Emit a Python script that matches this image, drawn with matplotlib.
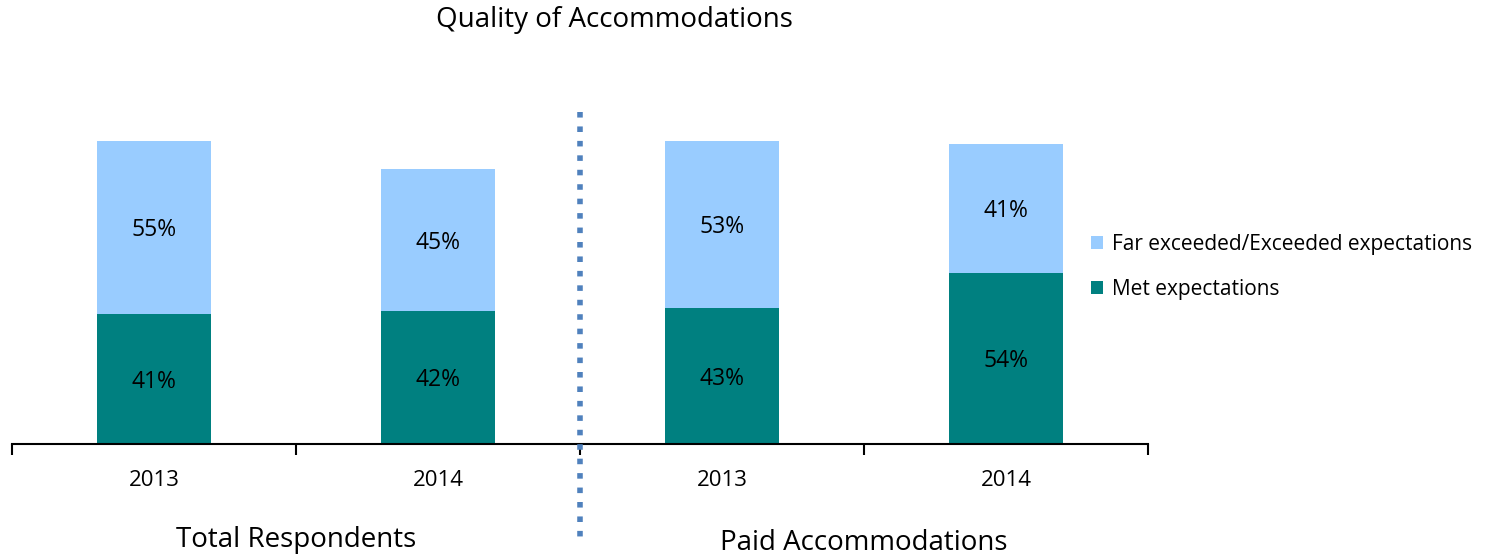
import matplotlib
matplotlib.use('Agg')
import matplotlib.pyplot as plt
import numpy as np

plt.rcParams['font.family'] = ['Open Sans', 'DejaVu Sans']

# 数据
years = ['2013', '2014', '2013', '2014']
groups = ['Total Respondents', 'Paid Accommodations']
met = [41, 42, 43, 54]
exceeded = [55, 45, 53, 41]

c_met = '#008080'
c_exc = '#99CCFF'

fig = plt.figure(figsize=(14.93, 5.56), dpi=100)
W, H = 1493, 556
ax = fig.add_axes([12 / W, (556 - 444) / H, (1148 - 12) / W, (444 - 128) / H])

x = np.arange(len(years))
b1 = ax.bar(x, met, 0.4, color=c_met, label='Met expectations')
b2 = ax.bar(x, exceeded, 0.4, bottom=met, color=c_exc,
            label='Far exceeded/Exceeded expectations')

for i in range(len(years)):
    ax.text(x[i], met[i] / 2 - 0.8, f'{met[i]}%', ha='center', va='center', fontsize=16.5)
    ax.text(x[i], met[i] + exceeded[i] / 2 - 0.8, f'{exceeded[i]}%', ha='center', va='center', fontsize=16.5)

ax.set_xlim(-0.5, len(years) - 0.5)
ax.set_ylim(0, 100)
for s in ['top', 'right', 'left']:
    ax.spines[s].set_visible(False)
ax.spines['bottom'].set_linewidth(1.5)
ax.set_yticks([])
ax.set_xticks(np.arange(-0.5, len(years), 1.0), minor=False)
ax.set_xticklabels([])
ax.tick_params(axis='x', length=8, width=1.5, direction='out')
for i, y in enumerate(years):
    ax.text(x[i], -11.4, y, ha='center', va='center', fontsize=16)

# 分组标签
ax.text(0.5, -30.5, groups[0], ha='center', va='center', fontsize=20)
ax.text(2.5, -31.2, groups[1], ha='center', va='center', fontsize=20)

# 分隔线
fig.add_artist(plt.Line2D([580 / W, 580 / W], [(556 - 112) / H, (556 - 542) / H],
                          color='#4F81BD', linewidth=4, linestyle=(0, (1, 1.6))))

fig.text(614 / W, 1 - 20 / H, 'Quality of Accommodations', ha='center', va='center', fontsize=20)

handles, labels = ax.get_legend_handles_labels()
fig.legend(handles[::-1], labels[::-1], loc='upper left', bbox_to_anchor=(1072 / W, 1 - 215 / H),
           frameon=False, fontsize=15, handlelength=0.6, handleheight=0.6,
           handletextpad=0.4, labelspacing=1.15)

plt.savefig('out.png', dpi=100)
plt.close()
